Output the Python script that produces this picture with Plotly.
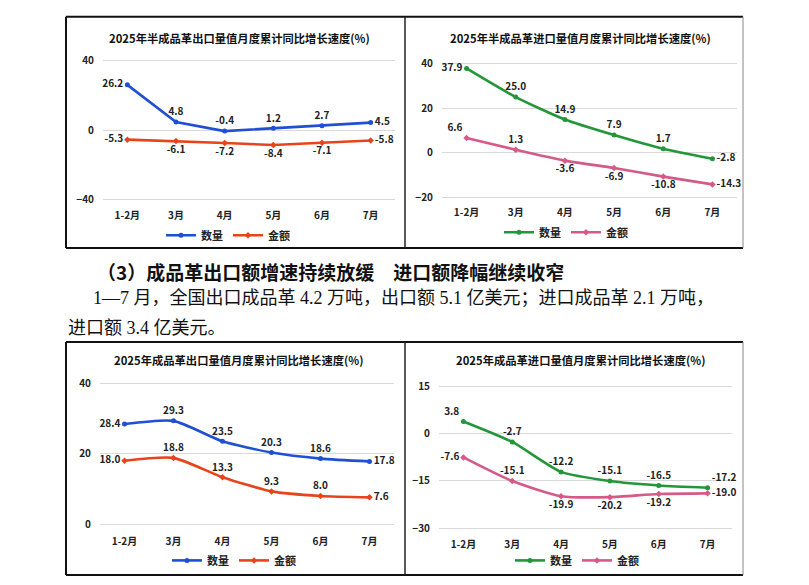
import plotly.graph_objects as go

W, H = 809, 585

months = ["1-2月", "3月", "4月", "5月", "6月", "7月"]

# 半成品革 出口 / 进口
semi_export_qty = [26.2, 4.8, -0.4, 1.2, 2.7, 4.5]
semi_export_val = [-5.3, -6.1, -7.2, -8.4, -7.1, -5.8]
semi_import_qty = [37.9, 25.0, 14.9, 7.9, 1.7, -2.8]
semi_import_val = [6.6, 1.3, -3.6, -6.9, -10.8, -14.3]

# 成品革 出口 / 进口
fin_export_qty = [28.4, 29.3, 23.5, 20.3, 18.6, 17.8]
fin_export_val = [18.0, 18.8, 13.3, 9.3, 8.0, 7.6]
fin_import_qty = [3.8, -2.7, -12.2, -15.1, -16.5, -17.2]
fin_import_val = [-7.6, -15.1, -19.9, -20.2, -19.2, -19.0]

FONT = "Noto Sans CJK SC"
BLUE, RED = "#1F4FD2", "#E8441C"
GREEN, PINK = "#23963A", "#D65A87"


def fx(p):
    return p / W


def fy(p):
    return 1 - p / H


L, RT, T, B = "middle left", "middle right", "top center", "bottom center"

panels = [
    dict(title="2025年半成品革出口量值月度累计同比增长速度(%)", qty=semi_export_qty, val=semi_export_val,
         colors=(BLUE, RED), shape="linear", xdom=(103, 395), ypx=(53.2, 198.8), yr=(-41, 41), dtick=40,
         qpos=[L, T, T, T, T, RT], vpos=[L, B, B, B, B, RT],
         tpos=(240, 32), leg=(228, 233)),
    dict(title="2025年半成品革进口量值月度累计同比增长速度(%)", qty=semi_import_qty, val=semi_import_val,
         colors=(GREEN, PINK), shape="spline", xdom=(442, 737), ypx=(55.7, 196.3), yr=(-21, 41), dtick=20,
         qpos=[L, T, T, T, T, RT], vpos=["top left", T, B, B, B, RT],
         tpos=(580, 32), leg=(566, 230)),
    dict(title="2025年成品革出口量值月度累计同比增长速度(%)", qty=fin_export_qty, val=fin_export_val,
         colors=(BLUE, RED), shape="spline", xdom=(100, 394), ypx=(380.4, 531.6), yr=(-1, 41), dtick=20,
         qpos=[L, T, T, T, T, RT], vpos=[L, T, T, T, T, RT],
         tpos=(238, 360), leg=(234, 565)),
    dict(title="2025年成品革进口量值月度累计同比增长速度(%)", qty=fin_import_qty, val=fin_import_val,
         colors=(GREEN, PINK), shape="spline", xdom=(439, 732), ypx=(383.8, 535.2), yr=(-31, 16), dtick=15,
         qpos=["top left", T, T, T, T, "top right"], vpos=[L, T, B, B, B, RT],
         tpos=(580, 360), leg=(577, 565)),
]

fig = go.Figure()
layout = dict(
    width=W, height=H, margin=dict(l=0, r=0, t=0, b=0),
    paper_bgcolor="white", plot_bgcolor="white",
    font=dict(family=FONT, size=10, color="#222222"),
    annotations=[], shapes=[],
)

for i, p in enumerate(panels):
    n = "" if i == 0 else str(i + 1)
    legname = "legend" if i == 0 else f"legend{i + 1}"
    for name, ys, col, pos, sym in [("数量", p["qty"], p["colors"][0], p["qpos"], "circle"),
                                    ("金额", p["val"], p["colors"][1], p["vpos"], "diamond")]:
        fig.add_trace(go.Scatter(
            x=months, y=ys, name=name, mode="lines+markers+text",
            line=dict(color=col, width=2.6, shape=p["shape"], smoothing=0.6),
            marker=dict(color=col, size=5, symbol=sym),
            texttemplate="%{y:.1f}", textposition=pos,
            textfont=dict(family=FONT, size=10, color="#222222", weight="bold"),
            xaxis="x" + n, yaxis="y" + n, legend=legname, cliponaxis=False,
        ))
    layout["xaxis" + n] = dict(
        domain=[fx(p["xdom"][0]), fx(p["xdom"][1])], anchor="y" + n,
        type="category", range=[-0.5, 5.5], showgrid=False, showline=False, zeroline=False,
        ticks="", ticklabelstandoff=6,
        tickfont=dict(family=FONT, size=10, color="#222222", weight="bold"),
    )
    layout["yaxis" + n] = dict(
        domain=[fy(p["ypx"][1]), fy(p["ypx"][0])], anchor="x" + n,
        range=list(p["yr"]), dtick=p["dtick"], tick0=0, showgrid=True, gridcolor="#D9D9D9", gridwidth=1,
        zeroline=False, showline=False, ticks="", ticklabelstandoff=8,
        tickfont=dict(family=FONT, size=10, color="#222222", weight="bold"),
    )
    layout[legname] = dict(
        x=fx(p["leg"][0]), y=fy(p["leg"][1]), xanchor="center", yanchor="middle",
        orientation="h", bgcolor="rgba(0,0,0,0)", itemwidth=30,
        font=dict(family=FONT, size=11, color="#222222", weight="bold"),
    )
    layout["annotations"].append(dict(
        text=p["title"], x=fx(p["tpos"][0]), y=fy(p["tpos"][1]), xref="paper", yref="paper",
        xanchor="center", yanchor="middle", showarrow=False,
        font=dict(family=FONT, size=11.3, color="#111111", weight="bold"),
    ))

# frames around the two chart rows
for top, bot in [(10, 246), (342, 580)]:
    for x0, y0, x1, y1, c, w in [(66, top, 743, top, "#111111", 2), (66, bot, 743, bot, "#111111", 2),
                                 (66, top, 66, bot, "#111111", 2), (743, top, 743, bot, "#888888", 1),
                                 (405, top, 405, bot, "#222222", 1.5)]:
        layout["shapes"].append(dict(type="line", xref="paper", yref="paper",
                                     x0=fx(x0), y0=fy(y0), x1=fx(x1), y1=fy(y1),
                                     line=dict(color=c, width=w)))

heading = "（3）成品革出口额增速持续放缓　进口额降幅继续收窄"
body1 = "1—7 月，全国出口成品革 4.2 万吨，出口额 5.1 亿美元；进口成品革 2.1 万吨，"
body2 = "进口额 3.4 亿美元。"
for txt, x, y, size, bold in [(heading, 95, 270, 19, True), (body1, 91, 297, 18, False),
                              (body2, 66, 328, 18, False)]:
    layout["annotations"].append(dict(
        text=txt, x=fx(x), y=fy(y), xref="paper", yref="paper", xanchor="left", yanchor="middle",
        showarrow=False,
        font=dict(family="Liberation Serif, " + FONT if not bold else FONT, size=size, color="#111111",
                  weight="bold" if bold else "normal"),
    ))

fig.update_layout(**layout)
# drop the default 8px body margin so the figure sits at the page origin
fig.write_html("out.html", config={"displayModeBar": False},
               post_script="document.body.style.margin = '0px';")
